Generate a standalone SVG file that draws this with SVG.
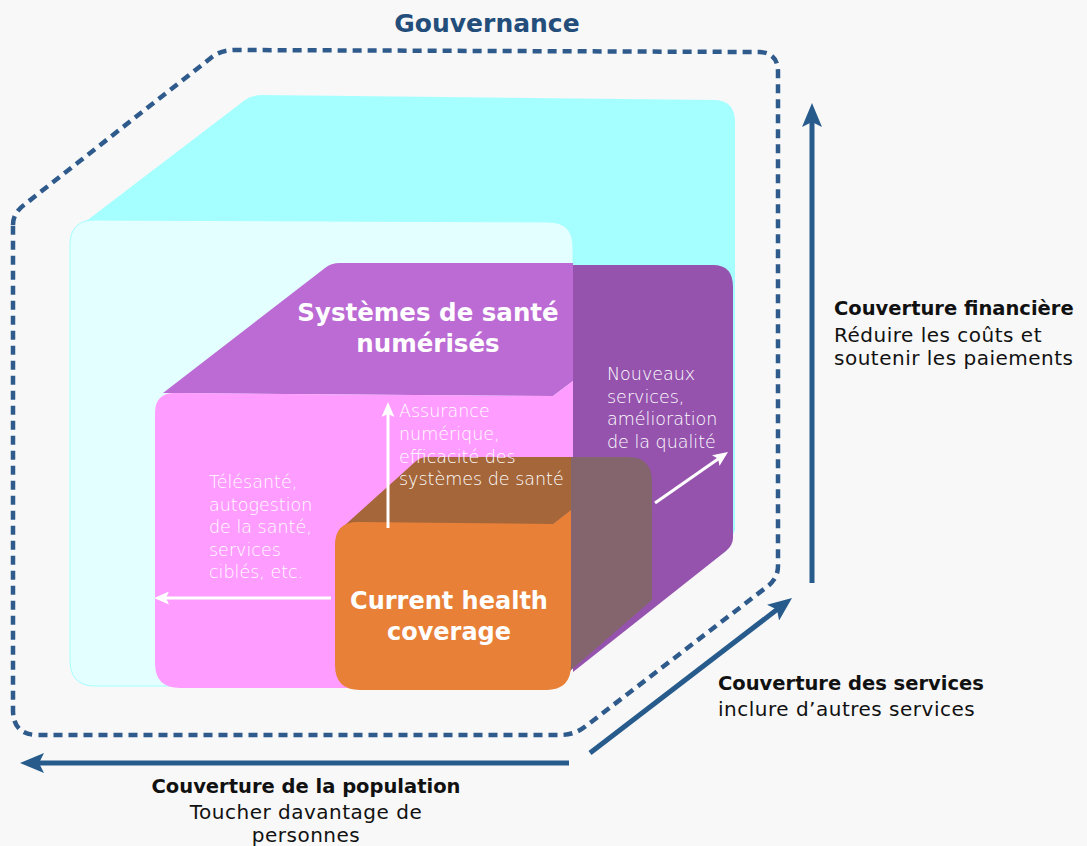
<svg xmlns="http://www.w3.org/2000/svg" width="1087" height="846" viewBox="0 0 1087 846">
<defs>
<style>
.bold{font-family:"DejaVu Sans","Open Sans","Liberation Sans",sans-serif;font-weight:700}
.reg{font-family:"DejaVu Sans","Open Sans","Liberation Sans",sans-serif;font-weight:400;letter-spacing:0.5px}
.light{font-family:"DejaVu Sans","Open Sans","Liberation Sans",sans-serif;font-weight:200;font-size:17.5px;fill:#ffffff}
.lbl{font-size:19.5px;fill:#111111}
.reg.lbl{font-size:20px}
.blue{stroke:#265b8c;stroke-width:5;fill:none}
.white{stroke:#ffffff;stroke-width:3;fill:none}
</style>
<marker id="bh" markerUnits="userSpaceOnUse" markerWidth="24" markerHeight="20" viewBox="0 0 24 20" refX="14" refY="10" orient="auto">
<path d="M0,0 L24,10 L0,20 L5,10 Z" fill="#265b8c"/>
</marker>
<marker id="wh" markerUnits="userSpaceOnUse" markerWidth="15" markerHeight="13" viewBox="0 0 15 13" refX="9" refY="6.5" orient="auto">
<path d="M0,0 L15,6.5 L0,13 L3,6.5 Z" fill="#ffffff"/>
</marker>
</defs>
<rect x="0" y="0" width="1087" height="846" fill="#f8f8f8"/>

<g id="gouvernance">
<path d="M 13 225 Q 13 213 24 205 L 212 57 Q 221 50 235 50 L 760 52 Q 778 53 778 72 L 778 566 Q 778 578 768 586 L 586 726 Q 575 735 560 735 L 38 735 Q 13 735 13 710 Z" fill="none" stroke="#2f5a8c" stroke-width="4.5" stroke-dasharray="9 6"/>
<text x="487" y="32" text-anchor="middle" class="bold" font-size="25" fill="#234d7a">Gouvernance</text>
</g>

<g id="cube-outer">
<path d="M 85 222 L 245 100 Q 252 95 262 95 L 715 100 Q 735 101 735 122 L 735 530 L 726 551 L 573 665 L 85 665 Z" fill="#a6ffff"/>
<path d="M 70 245 Q 70 220 95 220 L 548 222 Q 573 222 573 247 L 573 660 L 548 686 L 95 686 Q 70 686 70 660 Z" fill="#e4ffff" stroke="#a6ffff" stroke-width="1"/>
</g>

<g id="cube-digital">
<path d="M 573 265 L 713 265 Q 733 265 733 287 L 733 538 Q 733 545 726 551 L 573 672 Z" fill="#9553ae"/>
<path d="M 163 393 L 325 268 Q 331 263 340 263 L 573 263 L 573 381 L 553 396 Z" fill="#bb6bd3"/>
<path d="M 155 413 Q 155 393 175 393 L 553 396 L 573 381 L 573 660 L 545 688 L 180 688 Q 155 688 155 663 Z" fill="#ff9cff"/>
<text x="428" y="321" text-anchor="middle" class="bold" font-size="24.5" fill="#ffffff">Systèmes de santé</text>
<text x="428" y="352" text-anchor="middle" class="bold" font-size="24.5" fill="#ffffff">numérisés</text>
</g>

<g id="cube-current">
<path d="M 571 457 L 628 457 Q 652 457 652 482 L 652 600 L 548 690 L 548 457 Z" fill="#84646d"/>
<path d="M 345 525 L 415 462 Q 420 457 428 457 L 571 457 L 571 510 L 553 524 Z" fill="#a5663a"/>
<path d="M 335 545 Q 335 522 358 522 L 553 524 L 571 510 L 571 665 Q 571 690 546 690 L 360 690 Q 335 690 335 665 Z" fill="#e88038"/>
<text x="449" y="609" text-anchor="middle" class="bold" font-size="24" fill="#ffffff">Current health</text>
<text x="449" y="640" text-anchor="middle" class="bold" font-size="24" fill="#ffffff">coverage</text>
</g>

<g id="label-assurance">
<text class="light" x="399" y="417">Assurance</text>
<text class="light" x="399" y="440">numérique,</text>
<text class="light" x="399" y="462.5">efficacité des</text>
<text class="light" x="399" y="485">systèmes de santé</text>
</g>
<g id="label-telesante">
<text class="light" x="209" y="488">Télésanté,</text>
<text class="light" x="209" y="510.5">autogestion</text>
<text class="light" x="209" y="533">de la santé,</text>
<text class="light" x="209" y="555.5">services</text>
<text class="light" x="209" y="578">ciblés, etc.</text>
</g>
<g id="label-nouveaux">
<text class="light" x="607" y="380">Nouveaux</text>
<text class="light" x="607" y="402.5">services,</text>
<text class="light" x="607" y="425">amélioration</text>
<text class="light" x="607" y="447.5">de la qualité</text>
</g>

<g id="label-financiere">
<text class="bold lbl" x="834" y="315">Couverture financière</text>
<text class="reg lbl" x="834" y="342">Réduire les coûts et</text>
<text class="reg lbl" x="834" y="365">soutenir les paiements</text>
</g>
<g id="label-services">
<text class="bold lbl" x="718" y="690">Couverture des services</text>
<text class="reg lbl" x="718" y="716">inclure d’autres services</text>
</g>
<g id="label-population">
<text class="bold lbl" x="306" y="793" text-anchor="middle">Couverture de la population</text>
<text class="reg lbl" x="306" y="819" text-anchor="middle">Toucher davantage de</text>
<text class="reg lbl" x="306" y="842" text-anchor="middle">personnes</text>
</g>

<g id="connectors">
<line class="white" x1="388" y1="528" x2="388" y2="408" marker-end="url(#wh)"/>
<line class="white" x1="331" y1="598" x2="160" y2="598" marker-end="url(#wh)"/>
<line class="white" x1="655" y1="503" x2="723.1" y2="455.4" marker-end="url(#wh)"/>
<line class="blue" x1="812" y1="583" x2="812" y2="113" marker-end="url(#bh)"/>
<line class="blue" x1="569" y1="763" x2="30" y2="763" marker-end="url(#bh)"/>
<line class="blue" x1="590" y1="753" x2="784.1" y2="604.1" marker-end="url(#bh)"/>
</g>
</svg>
